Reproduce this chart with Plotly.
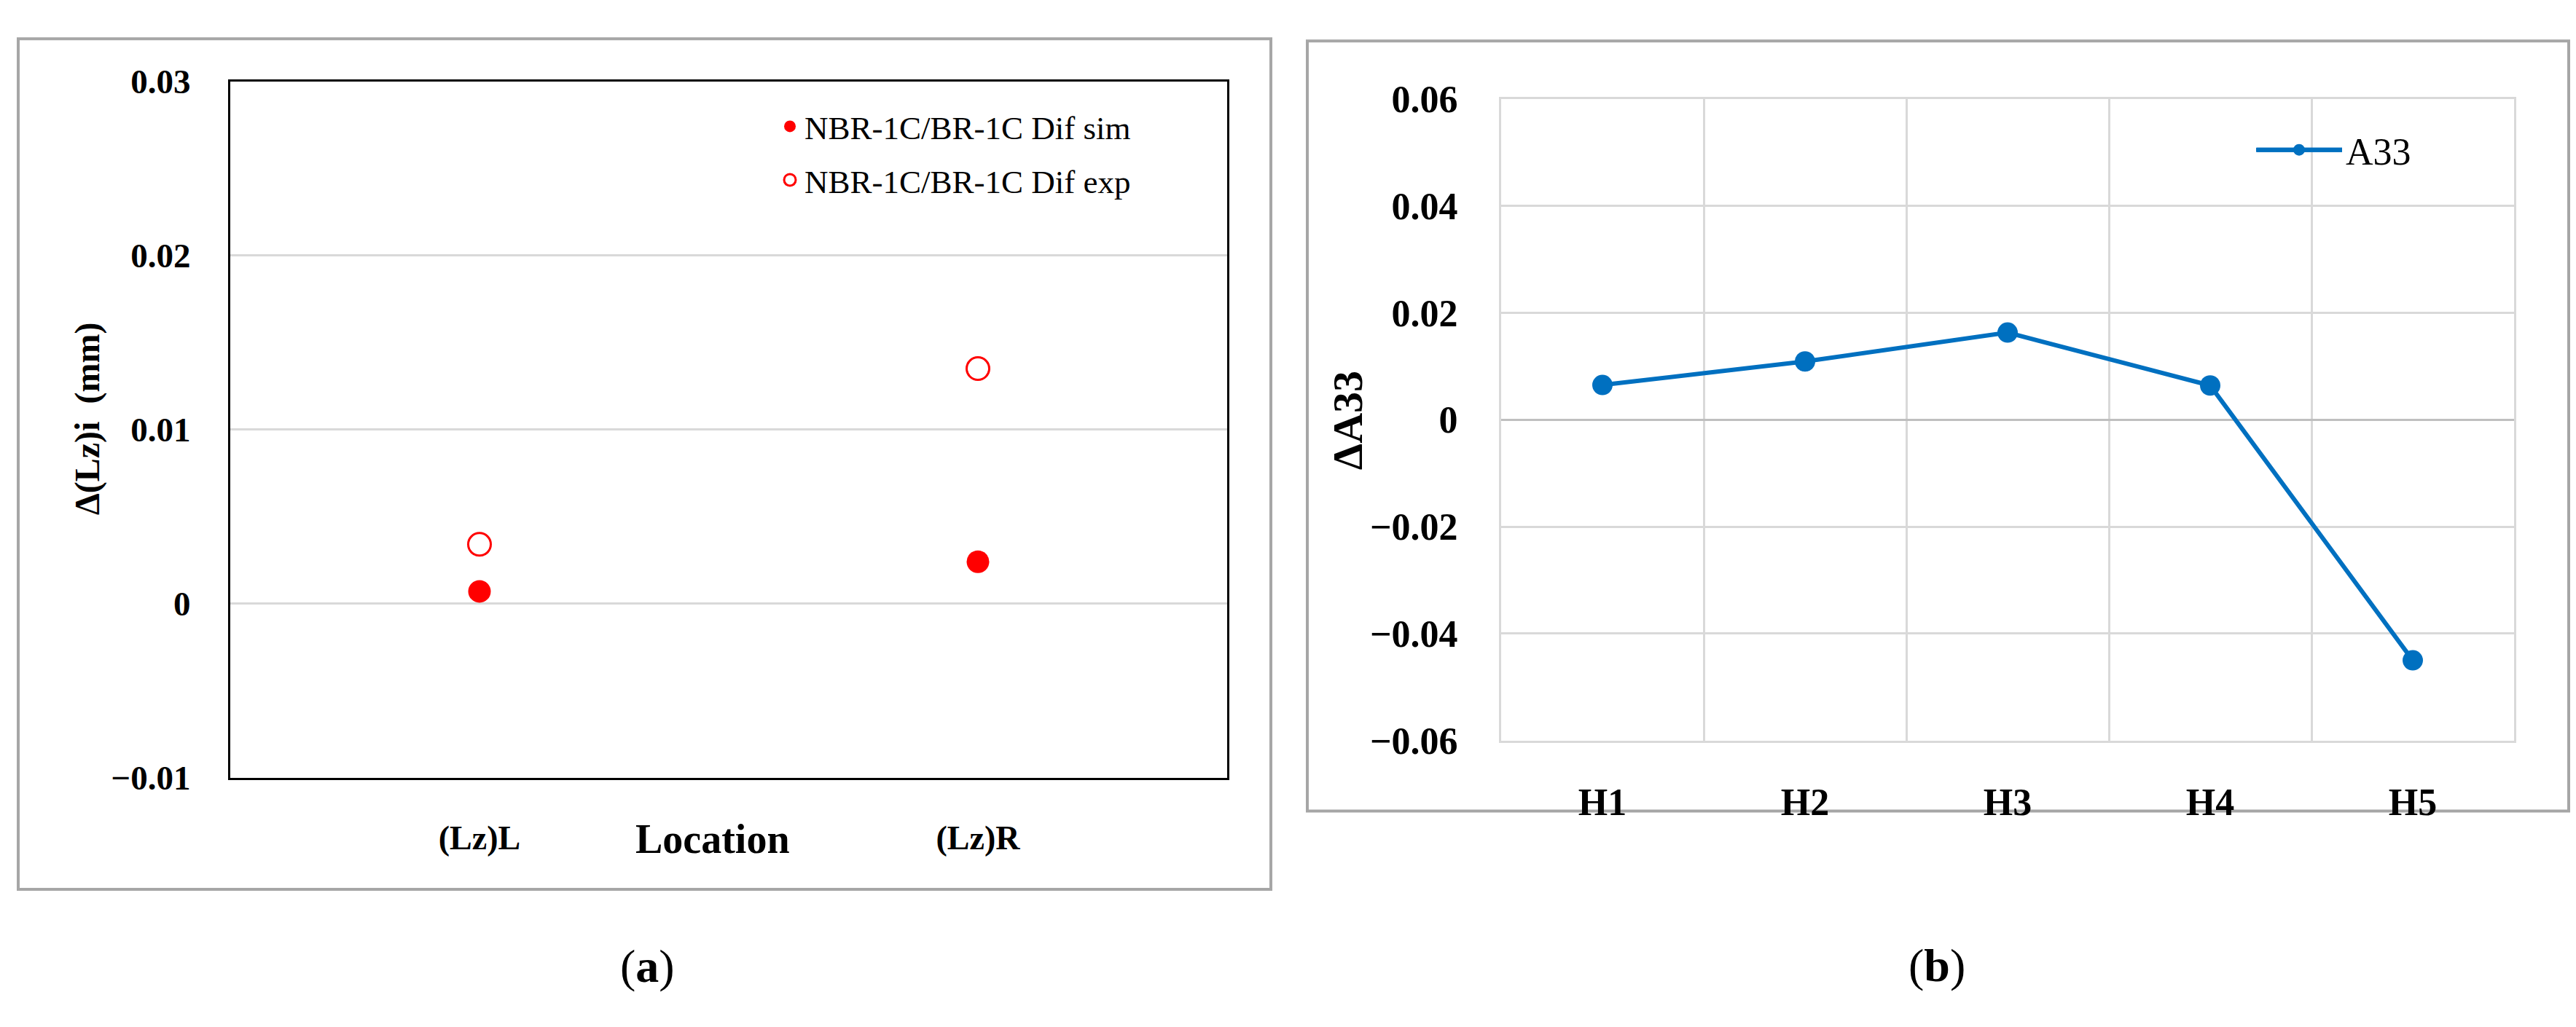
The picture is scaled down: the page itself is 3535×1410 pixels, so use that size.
import plotly.graph_objects as go

W, H = 3535, 1410

# panel (a): difference between NBR-1C and BR-1C
locations = ["(Lz)L", "(Lz)R"]
dif_sim = [0.0007, 0.0024]
dif_exp = [0.0034, 0.0135]

# panel (b): A33 difference per position
positions = ["H1", "H2", "H3", "H4", "H5"]
delta_a33 = [0.0065, 0.0109, 0.0163, 0.0064, -0.0450]

SERIF = "Liberation Serif, Times New Roman, serif"
RED = "#FF0000"
BLUE = "#0070C0"
GRID = "#D9D9D9"


def px_x(x):
    return x / W


def px_y(y):
    return 1 - y / H


fig = go.Figure()

fig.add_trace(go.Scatter(
    x=locations, y=dif_sim, mode="markers", name="NBR-1C/BR-1C Dif sim",
    marker=dict(color=RED, size=31, symbol="circle"),
    xaxis="x", yaxis="y", legend="legend", legendgroup="sim"))
fig.add_trace(go.Scatter(
    x=locations, y=dif_exp, mode="markers", name="NBR-1C/BR-1C Dif exp",
    marker=dict(color="white", size=31, symbol="circle",
                line=dict(color=RED, width=3)),
    xaxis="x", yaxis="y", legend="legend", legendgroup="exp"))

fig.add_trace(go.Scatter(
    x=positions, y=delta_a33, mode="lines+markers", name="A33",
    line=dict(color=BLUE, width=6),
    marker=dict(color=BLUE, size=28),
    xaxis="x2", yaxis="y2", legend="legend2"))

# panel frames and the long legend sample line of (b)
shapes = [
    dict(type="rect", xref="paper", yref="paper",
         x0=px_x(17), x1=px_x(1736), y0=px_y(1235), y1=px_y(18),
         line=dict(color="#A6A6A6", width=4), layer="below"),
    dict(type="rect", xref="paper", yref="paper",
         x0=px_x(1786), x1=px_x(3517), y0=px_y(1123), y1=px_y(21),
         line=dict(color="#A6A6A6", width=4), layer="below"),
    dict(type="line", xref="paper", yref="paper",
         x0=px_x(3089), x1=px_x(3206), y0=px_y(177), y1=px_y(177),
         line=dict(color=BLUE, width=6), layer="above"),
]

annotations = [
    dict(text="<b>Δ(Lz)i  (mm)</b>", x=px_x(112), y=px_y(562), textangle=-90,
         font=dict(size=48, family=SERIF, color="black")),
    dict(text="<b>Location</b>", x=px_x(970), y=px_y(1163),
         font=dict(size=56, family=SERIF, color="black")),
    dict(text="<b>ΔA33</b>", x=px_x(1841), y=px_y(564), textangle=-90,
         font=dict(size=58, family=SERIF, color="black")),
    dict(text="(<b>a</b>)", x=px_x(880), y=px_y(1345),
         font=dict(size=64, family=SERIF, color="black")),
    dict(text="(<b>b</b>)", x=px_x(2650), y=px_y(1344),
         font=dict(size=64, family=SERIF, color="black")),
]
for a in annotations:
    a.update(xref="paper", yref="paper", showarrow=False,
             xanchor="center", yanchor="middle")

fig.update_layout(
    width=W, height=H,
    margin=dict(l=0, r=0, t=0, b=0),
    paper_bgcolor="white", plot_bgcolor="white",
    font=dict(family=SERIF, color="black"),
    shapes=shapes,
    annotations=annotations,
    xaxis=dict(
        domain=[px_x(308), px_x(1676)], anchor="y",
        type="category", range=[-0.5, 1.5],
        showgrid=False, zeroline=False,
        showline=True, linecolor="black", linewidth=3, mirror=True,
        ticks="", ticklabelstandoff=40,
        tickfont=dict(size=46, family=SERIF, weight="bold")),
    yaxis=dict(
        domain=[px_y(1075), px_y(79)], anchor="x",
        range=[-0.01, 0.03], dtick=0.01, tick0=0,
        showgrid=True, gridcolor=GRID, gridwidth=3, zeroline=False,
        showline=True, linecolor="black", linewidth=3, mirror=True,
        ticks="", ticklabelstandoff=42,
        tickfont=dict(size=47, family=SERIF, weight="bold")),
    xaxis2=dict(
        domain=[px_x(2052), px_x(3442)], anchor="y2",
        type="category", range=[-0.5, 4.5], tickson="boundaries",
        showgrid=True, gridcolor=GRID, gridwidth=3, zeroline=False,
        showline=True, linecolor=GRID, linewidth=3, mirror=True,
        ticks="", ticklabelstandoff=37,
        tickfont=dict(size=52, family=SERIF, weight="bold")),
    yaxis2=dict(
        domain=[px_y(1022), px_y(104)], anchor="x2",
        range=[-0.06, 0.06], dtick=0.02, tick0=0,
        showgrid=True, gridcolor=GRID, gridwidth=3,
        zeroline=True, zerolinecolor="#BFBFBF", zerolinewidth=3,
        showline=True, linecolor=GRID, linewidth=3, mirror=True,
        ticks="", ticklabelstandoff=46,
        tickfont=dict(size=52, family=SERIF, weight="bold")),
    legend=dict(
        x=px_x(1056), y=px_y(106), xanchor="left", yanchor="top",
        bgcolor="rgba(0,0,0,0)", borderwidth=0, tracegroupgap=12,
        font=dict(size=45, family=SERIF, color="black")),
    legend2=dict(
        x=px_x(3083), y=px_y(177), xanchor="left", yanchor="middle",
        bgcolor="rgba(0,0,0,0)", borderwidth=0, itemwidth=118,
        font=dict(size=52, family=SERIF, color="black")),
)

fig.write_html("out.html")
